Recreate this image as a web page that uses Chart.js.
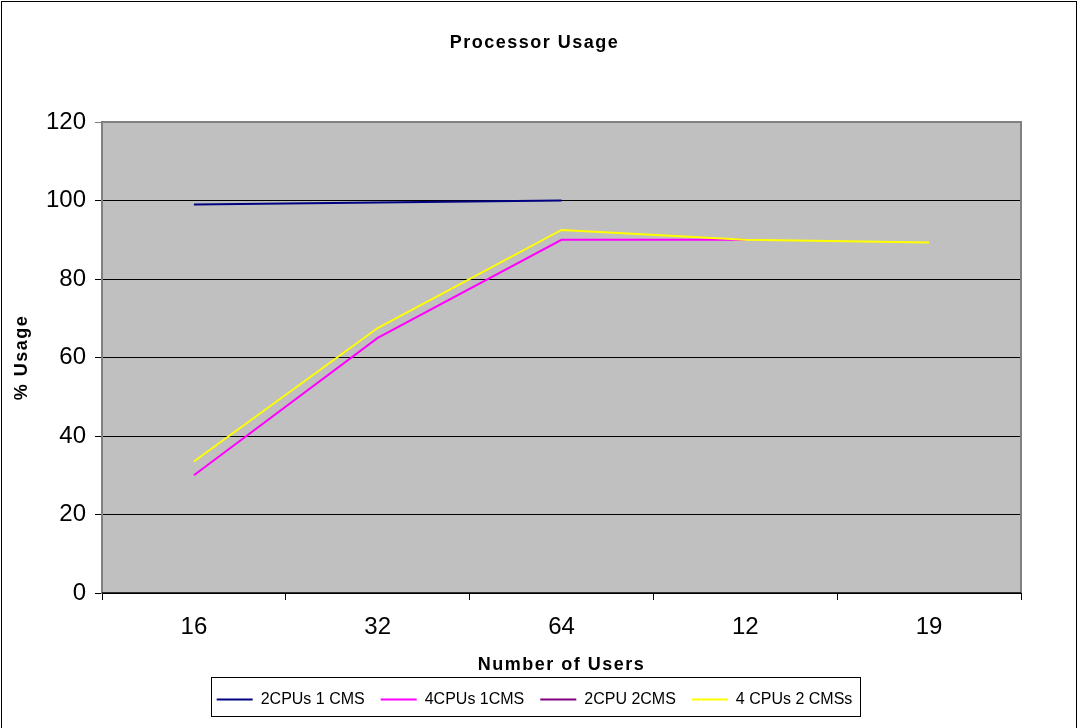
<!DOCTYPE html>
<html>
<head>
<meta charset="utf-8">
<script src="https://cdn.jsdelivr.net/npm/chart.js@4/dist/chart.umd.min.js"></script>
<style>
  html, body { margin: 0; padding: 0; background: #ffffff; }
  #wrap { width: 1079px; height: 728px; }
</style>
</head>
<body>
<div id="wrap"><canvas id="c" width="1079" height="728"></canvas></div>
<script>
// Number of concurrent users tested
const users = ['16', '32', '64', '12', '19'];

// Processor usage (%) per configuration
const cpu2cms1 = [99, 99.5, 100, null, null];
const cpu4cms1 = [30, 65, 90, 90, null];
const cpu2cms2 = [null, null, null, null, null];
const cpu4cms2 = [33.5, 67.5, 92.5, 90, 89.3];

const seriesNames = ['2CPUs 1 CMS', '4CPUs 1CMS', '2CPU 2CMS', '4 CPUs 2 CMSs'];
const seriesColors = ['#000080', '#FF00FF', '#800080', '#FFFF00'];

const yTicks = [0, 20, 40, 60, 80, 100, 120];

const FONT = '"Liberation Sans", Arial, sans-serif';
const TITLE_SPACING = '1.5px';

// Widen the letter spacing of the bold chart and axis titles only
function withSpacing(proto, method) {
  const orig = proto[method];
  proto[method] = function (...args) {
    const ctx = this.ctx;
    const prev = ctx.letterSpacing;
    ctx.letterSpacing = TITLE_SPACING;
    try { return orig.apply(this, args); } finally { ctx.letterSpacing = prev || '0px'; }
  };
}
withSpacing(Chart.Scale.prototype, 'drawTitle');
if (Chart.Title && Chart.Title._element) withSpacing(Chart.Title._element.prototype, 'draw');

// Grey plot background, plot frame, outer chart frame and legend frame
const framePlugin = {
  id: 'frames',
  beforeDraw(chart) {
    const { ctx, chartArea: a } = chart;
    ctx.save();
    ctx.fillStyle = '#ffffff';
    ctx.fillRect(0, 0, chart.width, chart.height);
    ctx.fillStyle = '#C0C0C0';
    ctx.fillRect(a.left, a.top, a.right - a.left, a.bottom - a.top);
    ctx.restore();
  },
  beforeDatasetsDraw(chart) {
    const { ctx, chartArea: a } = chart;
    ctx.save();
    ctx.strokeStyle = '#808080';
    ctx.lineWidth = 2;
    ctx.beginPath();
    ctx.moveTo(a.left, a.bottom);
    ctx.lineTo(a.left, a.top);
    ctx.lineTo(a.right, a.top);
    ctx.lineTo(a.right, a.bottom);
    ctx.stroke();
    ctx.strokeStyle = '#000000';
    ctx.lineWidth = 1.5;
    ctx.beginPath();
    ctx.moveTo(a.left, a.bottom);
    ctx.lineTo(a.right, a.bottom);
    ctx.stroke();
    ctx.restore();
  },
  afterDraw(chart) {
    const { ctx } = chart;
    ctx.save();
    ctx.strokeStyle = '#000000';
    ctx.lineWidth = 1;
    ctx.strokeRect(1.5, 1.5, chart.width - 4, chart.height + 10);
    const boxes = chart.legend && chart.legend.legendHitBoxes;
    if (boxes && boxes.length) {
      let l = Infinity, r = -Infinity, t = Infinity, b = -Infinity;
      boxes.forEach(h => {
        l = Math.min(l, h.left); r = Math.max(r, h.left + h.width);
        t = Math.min(t, h.top); b = Math.max(b, h.top + h.height);
      });
      const x0 = Math.round(l) - 5.5, x1 = Math.round(r) + 8.5;
      const y0 = Math.round(t) - 14.5, y1 = Math.round(b) + 8.5;
      ctx.strokeRect(x0, y0, x1 - x0, y1 - y0);
    }
    ctx.restore();
  }
};

new Chart(document.getElementById('c'), {
  type: 'line',
  data: {
    labels: users,
    datasets: [cpu2cms1, cpu4cms1, cpu2cms2, cpu4cms2].map((d, i) => ({
      label: seriesNames[i],
      data: d,
      borderColor: seriesColors[i],
      backgroundColor: seriesColors[i],
      borderWidth: 2,
      pointRadius: 0,
      pointHoverRadius: 0,
      tension: 0,
      fill: false,
      order: 4 - i
    }))
  },
  options: {
    responsive: false,
    animation: false,
    events: [],
    layout: { padding: { left: 0, right: 10, top: 0, bottom: 10.4 } },
    plugins: {
      tooltip: { enabled: false },
      title: {
        display: true,
        text: 'Processor Usage',
        color: '#000000',
        font: { family: FONT, size: 18, weight: 'bold' },
        padding: { top: 32, bottom: 68.4 }
      },
      legend: {
        display: true,
        position: 'bottom',
        labels: {
          color: '#000000',
          font: { family: FONT, size: 16 },
          usePointStyle: true,
          pointStyle: 'line',
          pointStyleWidth: 36,
          padding: 16,
          sort: (a, b) => a.datasetIndex - b.datasetIndex
        }
      }
    },
    scales: {
      x: {
        offset: true,
        grid: {
          offset: true,
          drawOnChartArea: false,
          drawTicks: true,
          tickLength: 7,
          color: '#000000'
        },
        border: { display: true, color: '#000000', width: 1 },
        ticks: {
          color: '#000000',
          font: { family: FONT, size: 24, lineHeight: 1 },
          padding: 15,
          maxRotation: 0
        },
        title: {
          display: true,
          text: 'Number of Users',
          color: '#000000',
          font: { family: FONT, size: 18, weight: 'bold' },
          padding: { top: 0, bottom: 0 }
        }
      },
      y: {
        min: 0,
        max: 120,
        afterBuildTicks(scale) {
          scale.ticks = yTicks.map(v => ({ value: v }));
        },
        afterFit(scale) { scale.width = 102; },
        grid: {
          color: ctx => (ctx.tick && ctx.tick.value === 120 ? '#808080' : '#000000'),
          lineWidth: 1,
          drawTicks: true,
          tickLength: 7
        },
        border: { display: true, color: '#808080', width: 2 },
        ticks: {
          color: '#000000',
          font: { family: FONT, size: 24 },
          padding: 9
        },
        title: {
          display: true,
          text: '% Usage',
          color: '#000000',
          font: { family: FONT, size: 18, weight: 'bold' },
          padding: { top: 11, bottom: 0 }
        }
      },
      // empty right-hand margin axis that keeps the plot's right edge in place
      yRight: {
        position: 'right',
        display: true,
        min: 0,
        max: 120,
        afterFit(scale) { scale.width = 48; },
        grid: { display: false, drawOnChartArea: false, drawTicks: false },
        border: { display: false },
        ticks: { display: false }
      }
    }
  },
  plugins: [framePlugin]
});
</script>
</body>
</html>
